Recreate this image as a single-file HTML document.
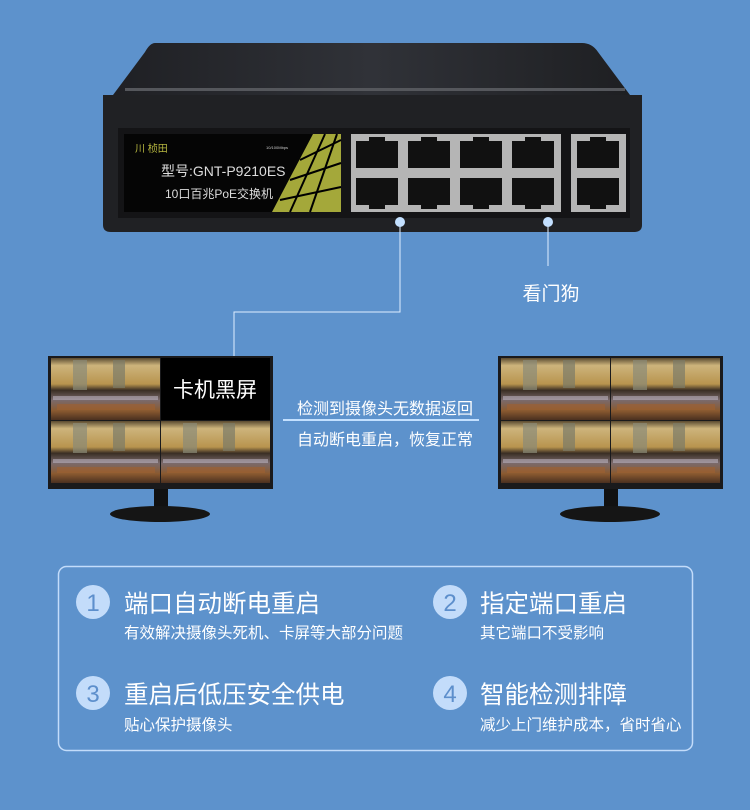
<!DOCTYPE html>
<html><head><meta charset="utf-8"><style>
html,body{margin:0;padding:0;background:#5d92cc;}
svg{display:block;}
text{font-family:"Liberation Sans","Noto Sans CJK SC",sans-serif;}
</style></head><body>
<svg width="750" height="810" viewBox="0 0 750 810" xmlns="http://www.w3.org/2000/svg">
<defs>
<linearGradient id="top" x1="0" y1="0" x2="1" y2="0"><stop offset="0" stop-color="#1f2024"/><stop offset="0.5" stop-color="#303238"/><stop offset="1" stop-color="#1e1f22"/></linearGradient>
<linearGradient id="cam" x1="0" y1="0" x2="0" y2="1">
<stop offset="0" stop-color="#5a4a30"/><stop offset="0.12" stop-color="#cdb47c"/><stop offset="0.42" stop-color="#b8944e"/><stop offset="0.52" stop-color="#3a2e24"/><stop offset="0.68" stop-color="#7a6a6c"/><stop offset="0.85" stop-color="#8a5a30"/><stop offset="1" stop-color="#4a3020"/></linearGradient>
<g id="cell">
<rect width="109" height="62" fill="url(#cam)"/>
<rect x="22" y="2" width="14" height="30" fill="#8a8a78" opacity="0.7"/>
<rect x="62" y="2" width="12" height="28" fill="#7a7a68" opacity="0.7"/>
<rect x="2" y="38" width="105" height="4" fill="#c8c0d0" opacity="0.5"/>
<rect x="6" y="46" width="98" height="6" fill="#a06030" opacity="0.6"/>
</g>
<g id="port">
<path d="M0 4 h13 v-4 h16 v4 h13 v27 h-42z" fill="#111"/>
</g>
<g id="portb">
<path d="M0 0 h42 v27 h-13 v4 h-16 v-4 h-13z" fill="#111"/>
</g>
</defs>
<rect width="750" height="810" fill="#5d92cc"/>

<!-- switch -->
<path d="M155 43 H582 Q592 43 598 52 L630 95 H113 L145 52 Q150 43 155 43z" fill="url(#top)"/>
<rect x="125" y="88" width="500" height="3" fill="#55575c"/>
<path d="M103 95 H642 V225 Q642 232 634 232 H111 Q103 232 103 225z" fill="#202124"/>
<rect x="118" y="128" width="512" height="90" fill="#141416"/>
<rect x="124" y="134" width="217" height="78" fill="#050505"/>
<polygon points="313,134 341,134 341,212 272,212" fill="#a4a83a"/>
<g stroke="#000" stroke-width="2">
<line x1="300" y1="160" x2="341" y2="140"/><line x1="290" y1="180" x2="341" y2="163"/><line x1="280" y1="200" x2="341" y2="187"/>
<line x1="325" y1="134" x2="290" y2="212"/><line x1="337" y1="134" x2="310" y2="212"/>
</g>
<text x="135" y="152" font-size="10" fill="#b8b840">川 桢田</text>
<text x="266" y="149" font-size="4" fill="#ccc">10/100Mbps</text>
<text x="161" y="176" font-size="14" fill="#ddd">型号:GNT-P9210ES</text>
<text x="165" y="198" font-size="12" fill="#ddd">10口百兆PoE交换机</text>
<rect x="351" y="134" width="210" height="78" fill="#b5b5b5"/>
<rect x="571" y="134" width="55" height="78" fill="#b5b5b5"/>
<use href="#port" x="356" y="137"/><use href="#port" x="408" y="137"/><use href="#port" x="460" y="137"/><use href="#port" x="512" y="137"/>
<use href="#portb" x="356" y="178"/><use href="#portb" x="408" y="178"/><use href="#portb" x="460" y="178"/><use href="#portb" x="512" y="178"/>
<use href="#port" x="577" y="137"/><use href="#portb" x="577" y="178"/>

<!-- connectors -->
<g stroke="#dfeeff" stroke-width="1" fill="none">
<path d="M400 222 V312 H234 V356"/>
<path d="M548 222 V266"/>
</g>
<circle cx="400" cy="222" r="5" fill="#c3e0ff"/>
<circle cx="548" cy="222" r="5" fill="#c3e0ff"/>
<text x="551" y="300" font-size="19" fill="#fff" text-anchor="middle">看门狗</text>

<!-- left monitor -->
<rect x="48" y="356" width="225" height="133" fill="#1a1a1c"/>
<use href="#cell" x="51" y="358"/><use href="#cell" x="51" y="421"/><use href="#cell" x="161" y="421"/>
<rect x="161" y="358" width="109" height="62" fill="#000"/>
<text x="215" y="397" font-size="21" fill="#fff" text-anchor="middle">卡机黑屏</text>
<rect x="154" y="489" width="14" height="20" fill="#111"/>
<ellipse cx="160" cy="514" rx="50" ry="8" fill="#151515"/>
<!-- right monitor -->
<rect x="498" y="356" width="225" height="133" fill="#1a1a1c"/>
<use href="#cell" x="501" y="358"/><use href="#cell" x="611" y="358"/><use href="#cell" x="501" y="421"/><use href="#cell" x="611" y="421"/>
<rect x="604" y="489" width="14" height="20" fill="#111"/>
<ellipse cx="610" cy="514" rx="50" ry="8" fill="#151515"/>

<text x="385" y="414" font-size="16" fill="#fff" text-anchor="middle">检测到摄像头无数据返回</text>
<rect x="283" y="419" width="196" height="2" fill="#c3e0ff"/>
<text x="385" y="445" font-size="16" fill="#fff" text-anchor="middle">自动断电重启，恢复正常</text>

<!-- bottom box -->
<rect x="58.5" y="566.5" width="634" height="184" rx="8" fill="none" stroke="#c3dcfa" stroke-width="1.5"/>
<g fill="#c3dcfa"><circle cx="93" cy="602" r="17"/><circle cx="450" cy="602" r="17"/><circle cx="93" cy="693" r="17"/><circle cx="450" cy="693" r="17"/></g>
<g font-size="24" fill="#5d8fcc" text-anchor="middle"><text x="93" y="611">1</text><text x="450" y="611">2</text><text x="93" y="702">3</text><text x="450" y="702">4</text></g>
<g fill="#fff">
<text x="124" y="612" font-size="24.5">端口自动断电重启</text>
<text x="124" y="638" font-size="15.5">有效解决摄像头死机、卡屏等大部分问题</text>
<text x="480" y="612" font-size="24.5">指定端口重启</text>
<text x="480" y="638" font-size="15.5">其它端口不受影响</text>
<text x="124" y="703" font-size="24.5">重启后低压安全供电</text>
<text x="124" y="730" font-size="15.5">贴心保护摄像头</text>
<text x="480" y="703" font-size="24.5">智能检测排障</text>
<text x="480" y="730" font-size="15.5">减少上门维护成本，省时省心</text>
</g>
</svg>
</body></html>
